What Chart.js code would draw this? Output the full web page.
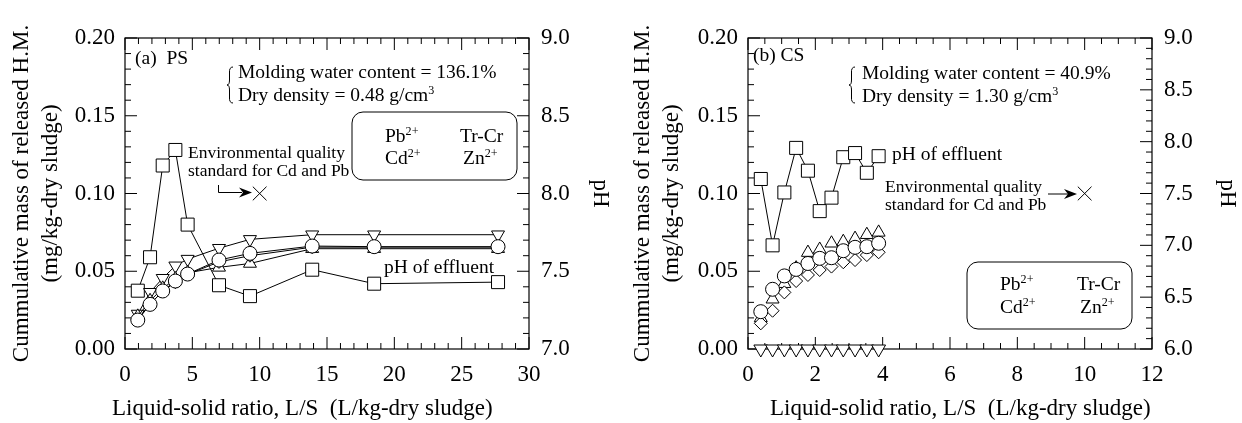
<!DOCTYPE html>
<html>
<head>
<meta charset="utf-8">
<script src="https://cdn.jsdelivr.net/npm/chart.js@4.4.0/dist/chart.umd.min.js"></script>
<style>
  html, body { margin: 0; padding: 0; background: #fff; }
  #wrap { width: 1242px; height: 423px; display: flex; }
  .panel { position: relative; width: 621px; height: 423px; }
</style>
</head>
<body>
<div id="wrap">
  <div class="panel"><canvas id="chartPS"></canvas></div>
  <div class="panel"><canvas id="chartCS"></canvas></div>
</div>
<script>
// (a) PS - cumulative L/S and released mass (mg/kg-dry sludge)
const lsPS = [0.95, 1.86, 2.8, 3.74, 4.65, 6.98, 9.28, 13.9, 18.5, 27.7];
const pbPS = [0.0186, 0.0287, 0.0373, 0.0437, 0.0482, 0.0572, 0.0615, 0.0662, 0.0658, 0.0658];
const crPS = [0.021, 0.031, 0.039, 0.045, 0.049, 0.0525, 0.055, 0.0645, 0.0645, 0.0645];
const cdPS = [0.0225, 0.0365, 0.0455, 0.0535, 0.0578, 0.0648, 0.0705, 0.0735, 0.0735, 0.0735];
const znPS = [0.019, 0.029, 0.037, 0.043, 0.048, 0.056, 0.06, 0.0655, 0.0655, 0.0655];
const phPS = [7.375, 7.59, 8.18, 8.28, 7.80, 7.41, 7.34, 7.51, 7.42, 7.43];

// (b) CS
const lsCS = [0.38, 0.73, 1.08, 1.43, 1.78, 2.13, 2.48, 2.83, 3.18, 3.53, 3.88];
const pbCS = [0.024, 0.0384, 0.047, 0.0512, 0.055, 0.0583, 0.0587, 0.0632, 0.0654, 0.0658, 0.068];
const crCS = [0.020, 0.032, 0.042, 0.052, 0.062, 0.064, 0.068, 0.069, 0.071, 0.0735, 0.075];
const cdCS = [0, 0, 0, 0, 0, 0, 0, 0, 0, 0, 0];
const znCS = [0.0165, 0.0246, 0.0364, 0.0437, 0.0476, 0.0508, 0.053, 0.0558, 0.0572, 0.0604, 0.0622];
const phCS = [7.64, 7.00, 7.51, 7.94, 7.72, 7.33, 7.46, 7.85, 7.89, 7.70, 7.86];

// environmental quality standard for Cd and Pb
const stdLS = [10];
const stdMass = [0.1];

// tick labels
const massTicks = [0, 0.05, 0.10, 0.15, 0.20];
const lsTicksPS = [0, 5, 10, 15, 20, 25, 30];
const lsTicksCS = [0, 2, 4, 6, 8, 10, 12];
const phTicksPS = [7.0, 7.5, 8.0, 8.5, 9.0];
const phTicksCS = [6.0, 6.5, 7.0, 7.5, 8.0, 8.5, 9.0];

const FONT = '"Liberation Serif", "Times New Roman", serif';
Chart.defaults.font.family = FONT;
Chart.defaults.color = '#000';

function pts(xs, ys) {
  return xs.map((x, i) => ({ x: x, y: ys[i] }));
}

function series(xs, ys, style, radius, rotation, line, axis) {
  return {
    data: pts(xs, ys),
    yAxisID: axis || 'y',
    showLine: line,
    borderColor: '#000',
    borderWidth: 1,
    pointStyle: style,
    pointRadius: radius,
    pointRotation: rotation,
    pointBorderColor: '#000',
    pointBackgroundColor: '#fff',
    pointBorderWidth: 1,
    clip: false
  };
}

// frame with inward ticks on all four sides
const framePlugin = {
  id: 'frame',
  beforeDatasetsDraw(chart) {
    const { ctx, chartArea: a, scales } = chart;
    const st = chart.options.plugins.frame;
    ctx.save();
    ctx.strokeStyle = '#000';
    ctx.lineWidth = 1.2;
    ctx.strokeRect(a.left, a.top, a.right - a.left, a.bottom - a.top);
    ctx.lineWidth = 1;
    ctx.beginPath();
    function each(scale, minor, major, fn) {
      const n = Math.round((scale.max - scale.min) / minor);
      for (let i = 0; i <= n; i++) {
        const v = scale.min + i * minor;
        const r = v / major;
        const isMajor = Math.abs(r - Math.round(r)) < 1e-6;
        fn(scale.getPixelForValue(v), isMajor ? 12 : 6);
      }
    }
    each(scales.x, st.xMinor, st.xMajor, (p, len) => {
      ctx.moveTo(p, a.bottom); ctx.lineTo(p, a.bottom - len);
      ctx.moveTo(p, a.top); ctx.lineTo(p, a.top + len);
    });
    each(scales.y, 0.01, 0.05, (p, len) => {
      ctx.moveTo(a.left, p); ctx.lineTo(a.left + len, p);
    });
    each(scales.y2, 0.1, 0.5, (p, len) => {
      ctx.moveTo(a.right, p); ctx.lineTo(a.right - len, p);
    });
    ctx.stroke();
    ctx.restore();
  }
};

function rich(ctx, x, y, parts, size) {
  let cx = x;
  parts.forEach(([t, sup]) => {
    const s = sup ? size * 0.62 : size;
    ctx.font = s + 'px ' + FONT;
    ctx.fillText(t, cx, sup ? y - size * 0.38 : y);
    cx += ctx.measureText(t).width;
  });
}

function brace(ctx, x, y1, y2) {
  const m = (y1 + y2) / 2, w = 5;
  ctx.beginPath();
  ctx.moveTo(x + w, y1);
  ctx.quadraticCurveTo(x + 1, y1, x + 1.5, y1 + 6);
  ctx.lineTo(x + 1.5, m - 5);
  ctx.quadraticCurveTo(x + 1.5, m, x - 1, m);
  ctx.quadraticCurveTo(x + 1.5, m, x + 1.5, m + 5);
  ctx.lineTo(x + 1.5, y2 - 6);
  ctx.quadraticCurveTo(x + 1, y2, x + w, y2);
  ctx.stroke();
}

function arrowHead(ctx, x, y) {
  ctx.beginPath();
  ctx.moveTo(x, y);
  ctx.lineTo(x - 13, y - 5);
  ctx.lineTo(x - 9, y);
  ctx.lineTo(x - 13, y + 5);
  ctx.closePath();
  ctx.fill();
}

function legendBox(ctx, x, y, w, h, cx1, cx2, b1, b2) {
  ctx.beginPath();
  ctx.roundRect(x, y, w, h, 11);
  ctx.stroke();
  rich(ctx, cx1, b1, [['Pb', false], ['2+', true]], 19.5);
  rich(ctx, cx2, b1, [['Tr-Cr', false]], 19.5);
  rich(ctx, cx1, b2, [['Cd', false], ['2+', true]], 19.5);
  rich(ctx, cx2 + 3, b2, [['Zn', false], ['2+', true]], 19.5);
}

function axisTitles(ctx, chart, xStart, phX) {
  const a = chart.chartArea;
  const mid = (a.top + a.bottom) / 2;
  ctx.font = '23px ' + FONT;
  ctx.textBaseline = 'alphabetic';
  ctx.textAlign = 'left';
  ctx.fillText('Liquid-solid ratio, L/S  (L/kg-dry sludge)', xStart, 415);
  ctx.textAlign = 'center';
  ctx.textBaseline = 'middle';
  ctx.save();
  ctx.translate(22, mid);
  ctx.rotate(-Math.PI / 2);
  ctx.fillText('Cummulative mass of released H.M.', 0, 0);
  ctx.fillText('(mg/kg-dry sludge)', 0, 29);
  ctx.restore();
  ctx.save();
  ctx.translate(phX, mid);
  ctx.rotate(Math.PI / 2);
  ctx.fillText('pH', 0, 0);
  ctx.restore();
  ctx.textAlign = 'left';
  ctx.textBaseline = 'alphabetic';
}

const notesPlugin = {
  id: 'notes',
  afterDraw(chart) {
    const ctx = chart.ctx;
    const which = chart.options.plugins.notes.panel;
    ctx.save();
    ctx.fillStyle = '#000';
    ctx.strokeStyle = '#000';
    ctx.lineWidth = 1;
    if (which === 'PS') {
      axisTitles(ctx, chart, 112, 600);
      rich(ctx, 135, 64, [['(a)  PS', false]], 19.5);
      brace(ctx, 228, 67, 103);
      rich(ctx, 238, 78, [['Molding water content = 136.1%', false]], 19.5);
      rich(ctx, 238, 101, [['Dry density = 0.48 g/cm', false], ['3', true]], 19.5);
      rich(ctx, 188, 158, [['Environmental quality', false]], 17.5);
      rich(ctx, 188, 176, [['standard for Cd and Pb', false]], 17.5);
      ctx.beginPath();
      ctx.moveTo(218.5, 185); ctx.lineTo(218.5, 192.5); ctx.lineTo(242, 192.5);
      ctx.stroke();
      arrowHead(ctx, 252, 192.5);
      rich(ctx, 384, 273, [['pH of effluent', false]], 19.5);
      legendBox(ctx, 352, 112, 165, 68, 385, 460, 142, 164);
    } else {
      axisTitles(ctx, chart, 770 - 621, 606);
      rich(ctx, 753 - 621, 61, [['(b) CS', false]], 19.5);
      brace(ctx, 850 - 621, 67, 103);
      rich(ctx, 862 - 621, 79, [['Molding water content = 40.9%', false]], 19.5);
      rich(ctx, 862 - 621, 102, [['Dry density = 1.30 g/cm', false], ['3', true]], 19.5);
      rich(ctx, 885 - 621, 192, [['Environmental quality', false]], 17.5);
      rich(ctx, 885 - 621, 210, [['standard for Cd and Pb', false]], 17.5);
      ctx.beginPath();
      ctx.moveTo(1048 - 621, 194); ctx.lineTo(1068 - 621, 194);
      ctx.stroke();
      arrowHead(ctx, 1077 - 621, 194);
      rich(ctx, 892 - 621, 160, [['pH of effluent', false]], 19.5);
      legendBox(ctx, 967 - 621, 262, 165, 67, 1000 - 621, 1077 - 621, 290, 313);
    }
    ctx.restore();
  }
};

function tickSet(list) {
  return scale => { scale.ticks = list.map(v => ({ value: v })); };
}

function build(id, p) {
  return new Chart(document.getElementById(id), {
    type: 'scatter',
    data: { datasets: p.datasets },
    options: {
      animation: false,
      responsive: true,
      maintainAspectRatio: false,
      layout: { padding: { top: 38, left: 0, right: 0, bottom: 0 } },
      plugins: {
        legend: { display: false },
        tooltip: { enabled: false },
        frame: { xMinor: p.xMinor, xMajor: p.xMajor },
        notes: { panel: p.panel }
      },
      scales: {
        x: {
          type: 'linear', min: 0, max: p.xMax,
          afterBuildTicks: tickSet(p.xTicks),
          afterFit: s => { s.height = 74; },
          grid: { display: false, drawTicks: false },
          border: { display: false },
          ticks: { padding: 12, font: { size: 23 }, maxRotation: 0, autoSkip: false, callback: v => String(v) }
        },
        y: {
          position: 'left', min: 0, max: 0.2,
          afterBuildTicks: tickSet(massTicks),
          afterFit: s => { s.width = p.leftW; },
          grid: { display: false, drawTicks: false },
          border: { display: false },
          ticks: { padding: 10, font: { size: 23 }, autoSkip: false, callback: v => v.toFixed(2) }
        },
        y2: {
          position: 'right', min: p.phMin, max: 9,
          afterBuildTicks: tickSet(p.phTicks),
          afterFit: s => { s.width = p.rightW; },
          grid: { display: false, drawTicks: false },
          border: { display: false },
          ticks: { padding: 12, font: { size: 23 }, autoSkip: false, callback: v => v.toFixed(1) }
        }
      }
    },
    plugins: [framePlugin, notesPlugin]
  });
}

build('chartPS', {
  panel: 'PS', xMax: 30, xTicks: lsTicksPS, xMinor: 1, xMajor: 5,
  phMin: 7, phTicks: phTicksPS, leftW: 125, rightW: 92,
  datasets: [
    series(stdLS, stdMass, 'crossRot', 9.7, 0, false),
    series(lsPS, pbPS, 'circle', 7, 0, true),
    series(lsPS, znPS, 'rectRot', 6.5, 0, true),
    series(lsPS, crPS, 'triangle', 7.5, 0, true),
    series(lsPS, cdPS, 'triangle', 7.5, 180, true),
    series(lsPS, phPS, 'rect', 9.2, 0, true, 'y2')
  ]
});

build('chartCS', {
  panel: 'CS', xMax: 12, xTicks: lsTicksCS, xMinor: 0.5, xMajor: 2,
  phMin: 6, phTicks: phTicksCS, leftW: 127, rightW: 90,
  datasets: [
    series(stdLS, stdMass, 'crossRot', 9.7, 0, false),
    series(lsCS, pbCS, 'circle', 7, 0, false),
    series(lsCS, znCS, 'rectRot', 6.5, 0, false),
    series(lsCS, crCS, 'triangle', 7.5, 0, false),
    series(lsCS, cdCS, 'triangle', 8, 180, false),
    series(lsCS, phCS, 'rect', 9.2, 0, true, 'y2')
  ]
});
</script>
</body>
</html>
